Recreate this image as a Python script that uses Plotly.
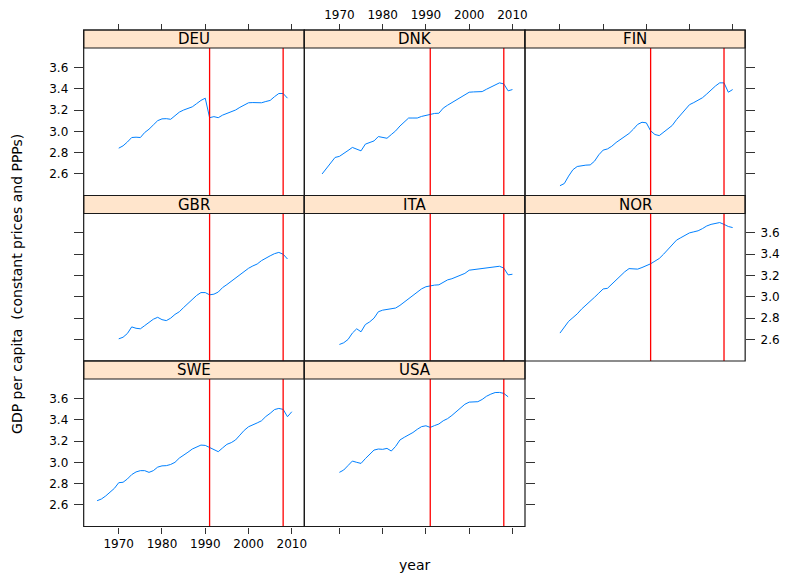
import plotly.graph_objects as go

# ---------------- data ----------------
countries = ["DEU", "DNK", "FIN", "GBR", "ITA", "NOR", "SWE", "USA"]

deu_years = list(range(1970, 2010))
deu_gdp = [2.842, 2.864, 2.90, 2.942, 2.945, 2.942, 2.989, 3.02, 3.06, 3.10,
           3.117, 3.119, 3.113, 3.145, 3.18, 3.20, 3.215, 3.23, 3.26, 3.29,
           3.311, 3.128, 3.138, 3.128, 3.152, 3.168, 3.18, 3.20, 3.225, 3.245,
           3.268, 3.27, 3.268, 3.268, 3.28, 3.29, 3.325, 3.355, 3.355, 3.311]

dnk_years = list(range(1966, 2011))
dnk_gdp = [2.60, 2.65, 2.71, 2.755, 2.765, 2.79, 2.82, 2.849, 2.835, 2.817,
           2.88, 2.895, 2.91, 2.951, 2.945, 2.935, 2.97, 3.004, 3.05, 3.09,
           3.125, 3.125, 3.125, 3.14, 3.15, 3.156, 3.168, 3.17, 3.218, 3.245,
           3.27, 3.292, 3.32, 3.34, 3.367, 3.37, 3.372, 3.373, 3.395, 3.417,
           3.44, 3.455, 3.445, 3.38, 3.392]

fin_years = list(range(1970, 2011))
fin_gdp = [2.49, 2.51, 2.58, 2.64, 2.67, 2.68, 2.683, 2.685, 2.72, 2.78,
           2.824, 2.835, 2.86, 2.895, 2.925, 2.955, 2.98, 3.02, 3.065, 3.085,
           3.08, 3.005, 2.97, 2.96, 2.99, 3.025, 3.055, 3.11, 3.16, 3.205,
           3.25, 3.27, 3.29, 3.315, 3.35, 3.39, 3.425, 3.455, 3.455, 3.367, 3.392]

gbr_years = list(range(1970, 2010))
gbr_gdp = [2.606, 2.621, 2.656, 2.718, 2.705, 2.70, 2.73, 2.76, 2.79, 2.808,
           2.786, 2.777, 2.80, 2.835, 2.86, 2.90, 2.94, 2.98, 3.013, 3.04,
           3.04, 3.019, 3.025, 3.045, 3.087, 3.115, 3.145, 3.175, 3.21, 3.24,
           3.268, 3.29, 3.308, 3.34, 3.365, 3.385, 3.405, 3.417, 3.40, 3.355]

ita_years = list(range(1970, 2011))
ita_gdp = [2.553, 2.569, 2.60, 2.66, 2.70, 2.672, 2.74, 2.765, 2.80, 2.86,
           2.875, 2.88, 2.885, 2.895, 2.92, 2.95, 2.98, 3.01, 3.045, 3.075,
           3.095, 3.106, 3.11, 3.113, 3.135, 3.159, 3.17, 3.185, 3.203, 3.22,
           3.25, 3.256, 3.259, 3.262, 3.27, 3.274, 3.285, 3.287, 3.27, 3.206, 3.212]

nor_years = list(range(1970, 2011))
nor_gdp = [2.66, 2.715, 2.77, 2.805, 2.84, 2.885, 2.925, 2.96, 2.996, 3.035,
           3.074, 3.08, 3.12, 3.158, 3.20, 3.235, 3.265, 3.265, 3.26, 3.275,
           3.29, 3.31, 3.335, 3.36, 3.40, 3.445, 3.49, 3.532, 3.555, 3.575,
           3.60, 3.61, 3.62, 3.64, 3.665, 3.68, 3.69, 3.697, 3.68, 3.66, 3.65]

swe_years = list(range(1965, 2011))
swe_gdp = [2.64, 2.656, 2.685, 2.72, 2.756, 2.809, 2.813, 2.844, 2.885, 2.91,
           2.922, 2.922, 2.906, 2.922, 2.955, 2.967, 2.969, 2.98, 3.00, 3.04,
           3.065, 3.095, 3.125, 3.145, 3.162, 3.159, 3.141, 3.12, 3.10, 3.135,
           3.169, 3.185, 3.21, 3.255, 3.30, 3.334, 3.35, 3.37, 3.39, 3.43,
           3.46, 3.495, 3.506, 3.497, 3.428, 3.475]

usa_years = list(range(1970, 2010))
usa_gdp = [2.906, 2.928, 2.97, 3.012, 3.00, 2.99, 3.035, 3.075, 3.115, 3.125,
           3.122, 3.131, 3.106, 3.15, 3.21, 3.235, 3.255, 3.28, 3.31, 3.335,
           3.343, 3.328, 3.345, 3.36, 3.39, 3.41, 3.44, 3.475, 3.51, 3.545,
           3.565, 3.567, 3.569, 3.59, 3.62, 3.64, 3.655, 3.656, 3.647, 3.615]

crisis_years = [1991, 2008]
x_ticks = [1970, 1980, 1990, 2000, 2010]
y_ticks = [2.6, 2.8, 3.0, 3.2, 3.4, 3.6]
y_ticklabels = ["2.6", "2.8", "3.0", "3.2", "3.4", "3.6"]

series = {
    "DEU": (deu_years, deu_gdp), "DNK": (dnk_years, dnk_gdp),
    "FIN": (fin_years, fin_gdp), "GBR": (gbr_years, gbr_gdp),
    "ITA": (ita_years, ita_gdp), "NOR": (nor_years, nor_gdp),
    "SWE": (swe_years, swe_gdp), "USA": (usa_years, usa_gdp),
}

# ---------------- layout geometry (pixels) ----------------
W, H = 791, 575
col_px = [(84, 305.5), (305.5, 527), (527, 748)]
row_plot_px = [(48, 195.5), (213.5, 361), (379, 526.5)]
row_strip_top = [30, 195.5, 361]
XR = [1961.9, 2012.9]
YR = [2.398, 3.782]

def fx(p):
    return p / W

def fy(p):
    return 1 - p / H

# per-panel axis config: (col,row, xside, xlabels, yside, ylabels)
cfg = {
    "DEU": (0, 0, "top", False, "left", True),
    "DNK": (1, 0, "top", True, None, False),
    "FIN": (2, 0, "top", False, "right", False),
    "GBR": (0, 1, None, False, "left", False),
    "ITA": (1, 1, None, False, None, False),
    "NOR": (2, 1, None, False, "right", True),
    "SWE": (0, 2, "bottom", True, "left", True),
    "USA": (1, 2, "bottom", False, "right", False),
}

FONTFAM = "DejaVu Sans, Liberation Sans, Arial"
TICKFONT = dict(family=FONTFAM, size=12, color="#000000")
AXCOL = "#333333"
BORDER = "#1a1a1a"

fig = go.Figure()
shapes = []
annotations = []

for i, c in enumerate(countries, start=1):
    col, row, xside, xlab, yside, ylab = cfg[c]
    x0p, x1p = col_px[col]
    ytp, ybp = row_plot_px[row]
    xs = "" if i == 1 else str(i)
    yrs, vals = series[c]
    fig.add_trace(go.Scatter(x=yrs, y=vals, mode="lines",
                             line=dict(color="#0080ff", width=1),
                             xaxis="x" + xs, yaxis="y" + xs,
                             showlegend=False, hoverinfo="x+y"))

    xa = dict(domain=[fx(x0p), fx(x1p)], range=XR, showgrid=False, zeroline=False,
              showline=False, tickvals=x_ticks, ticktext=[str(v) for v in x_ticks],
              tickfont=TICKFONT, ticklen=6, tickwidth=1, tickcolor=AXCOL)
    if xside is None:
        xa.update(ticks="", showticklabels=False, anchor="y" + xs)
    elif xside == "top":
        xa.update(ticks="outside", showticklabels=xlab, side="top",
                  anchor="free", position=fy(row_strip_top[row]))
    else:
        xa.update(ticks="outside", showticklabels=xlab, side="bottom", anchor="y" + xs)

    ya = dict(domain=[fy(ybp), fy(ytp)], range=YR, showgrid=False, zeroline=False,
              showline=False, tickvals=y_ticks, ticktext=y_ticklabels,
              tickfont=TICKFONT, ticklen=9, tickwidth=1, tickcolor=AXCOL,
              anchor="x" + xs, ticklabelstandoff=3)
    if yside is None:
        ya.update(ticks="", showticklabels=False)
    else:
        ya.update(ticks="outside", showticklabels=ylab, side=yside)

    fig.layout["xaxis" + xs] = xa
    fig.layout["yaxis" + xs] = ya

    # crisis lines
    for cy in crisis_years:
        shapes.append(dict(type="line", xref="x" + xs, yref="y" + xs + " domain",
                           x0=cy, x1=cy, y0=0, y1=1,
                           line=dict(color="#ff0000", width=1.3), layer="above"))

    # strip
    st = row_strip_top[row]
    shapes.append(dict(type="rect", xref="paper", yref="paper",
                       x0=fx(x0p), x1=fx(x1p), y0=fy(ytp), y1=fy(st),
                       fillcolor="#ffe5cc", line=dict(color=BORDER, width=1.2),
                       layer="above"))
    annotations.append(dict(text=c, xref="paper", yref="paper",
                            x=fx((x0p + x1p) / 2), y=fy((st + ytp) / 2),
                            showarrow=False, xanchor="center", yanchor="middle",
                            font=dict(family=FONTFAM, size=15, color="#000000")))
    # panel border
    shapes.append(dict(type="rect", xref="paper", yref="paper",
                       x0=fx(x0p), x1=fx(x1p), y0=fy(ybp), y1=fy(st),
                       line=dict(color=BORDER, width=1.2), layer="above"))

annotations.append(dict(text="year", xref="paper", yref="paper",
                        x=fx(416), y=fy(565), showarrow=False,
                        xanchor="center", yanchor="middle",
                        font=dict(family=FONTFAM, size=14, color="#000000")))
annotations.append(dict(text="GDP per capita  (constant prices and PPPs)",
                        xref="paper", yref="paper", x=fx(17), y=fy(284),
                        textangle=-90, showarrow=False,
                        xanchor="center", yanchor="middle",
                        font=dict(family=FONTFAM, size=14, color="#000000")))

fig.update_layout(width=W, height=H, margin=dict(l=0, r=0, t=0, b=0),
                  paper_bgcolor="white", plot_bgcolor="white",
                  shapes=shapes, annotations=annotations, showlegend=False)

fig.write_html("out.html", config={"displayModeBar": False},
               post_script="document.body.style.margin='0';document.body.style.padding='0';")
